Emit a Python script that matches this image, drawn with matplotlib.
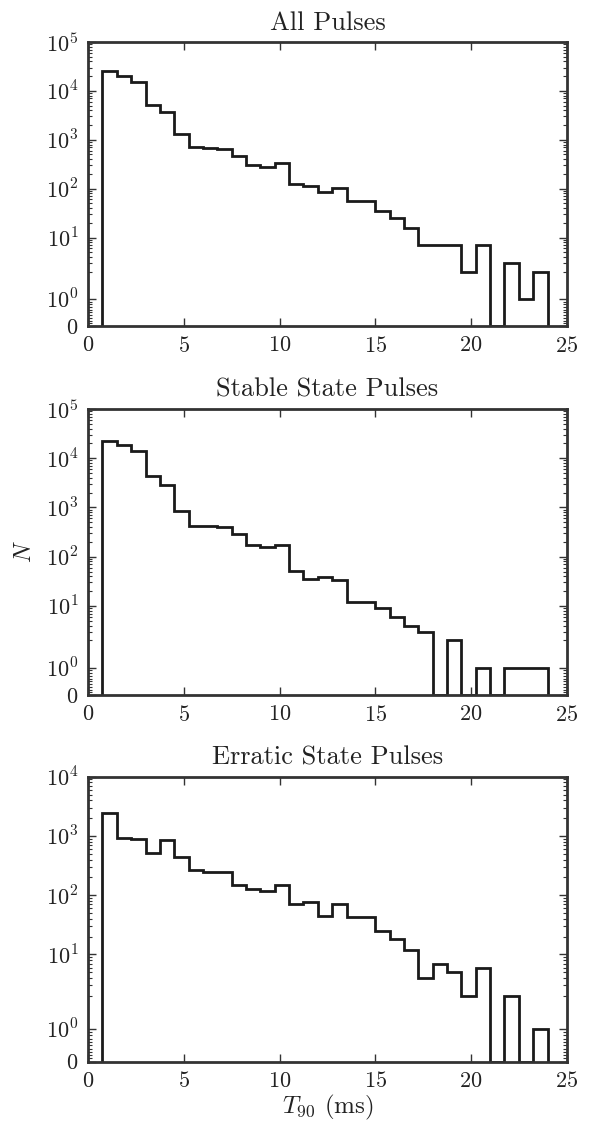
import numpy as np
import matplotlib
matplotlib.use("Agg")
import matplotlib.pyplot as plt

plt.rcParams['font.family'] = 'serif'
plt.rcParams['font.serif'] = ['cmr10']
plt.rcParams['mathtext.fontset'] = 'cm'
plt.rcParams['axes.formatter.use_mathtext'] = True

# bin edges of the T90 histogram (ms)
binEdges = [0.75 + 0.75 * k for k in range(32)]

allPulses = [25400, 20100, 15200, 5100, 3730, 1310, 727, 693, 651, 462,
             308, 281, 333, 125, 114, 86, 104, 56, 56, 35,
             25, 16, 7, 7, 7, 2, 7, 0, 3, 1, 2]
stablePulses = [22700, 18800, 14200, 4270, 2800, 856, 430, 417, 392, 291,
                174, 154, 171, 51, 35, 38, 33, 12, 12, 9,
                6, 4, 3, 0, 2, 0, 1, 0, 1, 1, 1]
erraticPulses = [2420, 918, 895, 514, 839, 440, 262, 249, 249, 151,
                 127, 116, 151, 71, 76, 44, 72, 43, 43, 25,
                 18, 12, 4, 7, 5, 2, 6, 0, 2, 0, 1]

titles = ["All Pulses", "Stable State Pulses", "Erratic State Pulses"]
series = [allPulses, stablePulses, erraticPulses]
topPowers = [5, 5, 4]
xTicks = [0, 5, 10, 15, 20, 25]

fig = plt.figure(figsize=(6.12, 11.23), dpi=100)
axPos = [[0.144, 0.7097, 0.782, 0.2529],
         [0.144, 0.3811, 0.782, 0.2547],
         [0.144, 0.0546, 0.782, 0.2538]]

textColor = '#222222'

for i in range(3):
    ax = fig.add_axes(axPos[i])
    ax.stairs(series[i], binEdges, baseline=0, color='#1a1a1a', linewidth=2.0)
    ax.set_yscale('symlog', linthresh=2, linscale=1)
    ax.set_xlim(0, 25)
    ax.set_ylim(0, 10 ** topPowers[i])

    majors = [0] + [10 ** p for p in range(topPowers[i] + 1)]
    labels = ['$0$'] + ['$10^{%d}$' % p for p in range(topPowers[i] + 1)]
    ax.set_yticks(majors)
    ax.set_yticklabels(labels)
    minors = [0.1 * k for k in range(1, 10)]
    for p in range(topPowers[i]):
        minors += [m * 10 ** p for m in range(2, 10)]
    ax.set_yticks(minors, minor=True)

    ax.set_xticks(xTicks)
    ax.set_xticklabels(['$%d$' % t for t in xTicks])

    ax.tick_params(which='both', direction='in', top=True, right=True,
                   labelsize=16, labelcolor=textColor, color='#333333')
    ax.tick_params(which='major', length=6, width=1.0, pad=7)
    ax.tick_params(which='minor', length=3, width=0.8)
    for s in ax.spines.values():
        s.set_linewidth(2.0)
        s.set_color('#333333')

    ax.set_title(titles[i], fontsize=19, color=textColor, pad=9)
    if i == 1:
        ax.set_ylabel('$N$', fontsize=17, color=textColor, labelpad=7)
    if i == 2:
        ax.set_xlabel('$T_{90}$ (ms)', fontsize=18, color=textColor, labelpad=1)

fig.savefig('out.png', dpi=100)
